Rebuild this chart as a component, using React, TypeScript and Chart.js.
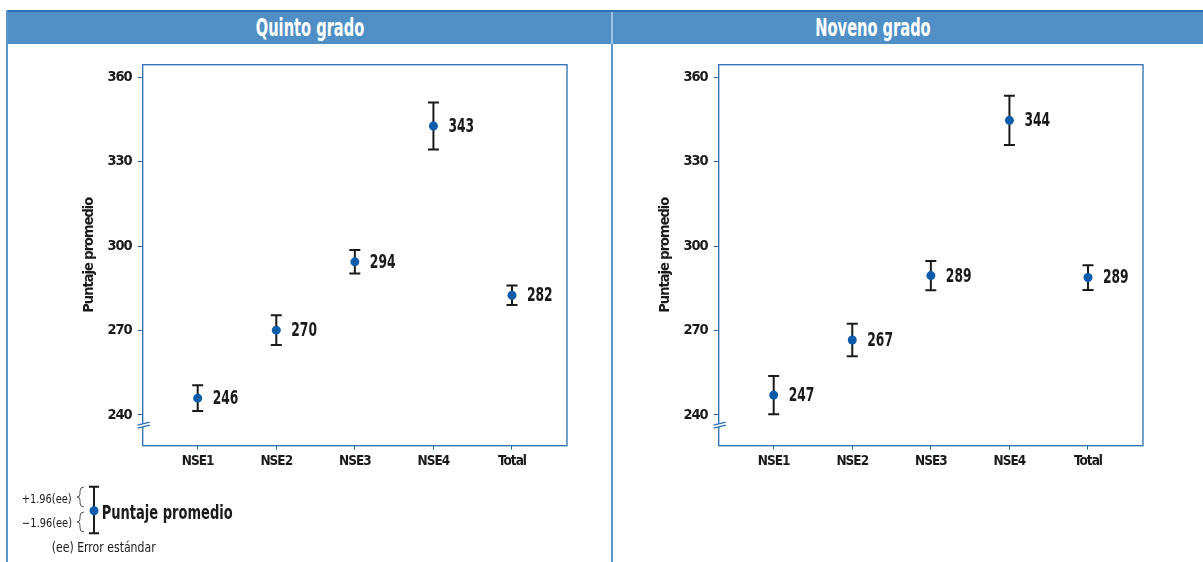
import React, { useEffect, useRef } from "react";
import { Chart, registerables } from "chart.js";
Chart.register(...registerables);

const categories = ["NSE1", "NSE2", "NSE3", "NSE4", "Total"];
const yTicks = [240, 270, 300, 330, 360];
const quintoMeans = [245.9, 270.1, 294.4, 342.7, 282.5];
const quintoErr = [4.6, 5.3, 4.2, 8.4, 3.5];
const quintoLabels = [246, 270, 294, 343, 282];
const novenoMeans = [247.0, 266.6, 289.5, 344.7, 288.8];
const novenoErr = [6.8, 5.8, 5.2, 8.8, 4.4];
const novenoLabels = [247, 267, 289, 344, 289];
const yTitle = "Puntaje promedio";
const panelTitles = ["Quinto grado", "Noveno grado"];
const legendTexts = ["+1.96(ee)", "\u22121.96(ee)", "Puntaje promedio", "(ee) Error est\u00e1ndar"];

const NARROW = "'Liberation Sans Narrow', 'Arial Narrow', 'DejaVu Sans Condensed', sans-serif";
const BLUE = "#2a6cb0";
const DOT = "#0b5cab";
const INK = "#1a1a1a";

function Panel(props: { means: number[]; errs: number[]; labels: number[]; left: number }) {
  const ref = useRef<HTMLCanvasElement>(null);
  useEffect(() => {
    const { means, errs, labels } = props;
    const plugin = {
      id: "decor",
      beforeDraw(chart: any) {
        try {
          (chart.ctx as any).letterSpacing = "-1px";
        } catch (e) {}
      },
      beforeDatasetsDraw(chart: any) {
        const { ctx, chartArea, scales } = chart;
        ctx.save();
        ctx.strokeStyle = BLUE;
        ctx.lineWidth = 1.3;
        ctx.strokeRect(chartArea.left, chartArea.top, chartArea.right - chartArea.left, chartArea.bottom - chartArea.top);
        ctx.strokeStyle = INK;
        ctx.lineWidth = 2;
        means.forEach((m, i) => {
          const x = scales.x.getPixelForValue(i);
          const yt = scales.y.getPixelForValue(m + errs[i]);
          const yb = scales.y.getPixelForValue(m - errs[i]);
          ctx.beginPath();
          ctx.moveTo(x, yt);
          ctx.lineTo(x, yb);
          ctx.moveTo(x - 5.5, yt);
          ctx.lineTo(x + 5.5, yt);
          ctx.moveTo(x - 5.5, yb);
          ctx.lineTo(x + 5.5, yb);
          ctx.stroke();
        });
        ctx.restore();
      },
      afterDatasetsDraw(chart: any) {
        const { ctx, scales, chartArea } = chart;
        ctx.save();
        try {
          (ctx as any).letterSpacing = "0px";
        } catch (e) {}
        ctx.fillStyle = INK;
        ctx.font = "bold 19px " + NARROW;
        ctx.textAlign = "left";
        ctx.textBaseline = "middle";
        means.forEach((m, i) => {
          const x = scales.x.getPixelForValue(i);
          const y = scales.y.getPixelForValue(m);
          ctx.save();
          ctx.translate(x + 15, y + 1);
          ctx.scale(0.72, 1);
          ctx.fillText(String(labels[i]), 0, 0);
          ctx.restore();
        });
        // axis break marks
        const bx = chartArea.left;
        const by = scales.y.getPixelForValue(236.3);
        ctx.fillStyle = "#ffffff";
        ctx.beginPath();
        ctx.moveTo(bx - 5, by);
        ctx.lineTo(bx + 7, by - 3);
        ctx.lineTo(bx + 7, by);
        ctx.lineTo(bx - 5, by + 3);
        ctx.closePath();
        ctx.fill();
        ctx.strokeStyle = BLUE;
        ctx.lineWidth = 1.2;
        [-1.5, 1.5].forEach((d) => {
          ctx.beginPath();
          ctx.moveTo(bx - 5, by + d + 1.5);
          ctx.lineTo(bx + 7, by + d - 1.5);
          ctx.stroke();
        });
        ctx.restore();
      },
    };
    const chart = new Chart(ref.current as HTMLCanvasElement, {
      type: "scatter",
      data: {
        datasets: [
          {
            data: means.map((m, i) => ({ x: i, y: m })),
            pointRadius: 4.5,
            pointBackgroundColor: DOT,
            pointBorderWidth: 0,
            showLine: false,
          },
        ],
      },
      options: {
        animation: false,
        responsive: false,
        events: [],
        layout: { padding: { top: 14.5, right: 41, left: 0, bottom: 0 } },
        plugins: { legend: { display: false }, tooltip: { enabled: false } },
        scales: {
          x: {
            type: "linear",
            min: -0.7,
            max: 4.7,
            afterBuildTicks: (s: any) => {
              s.ticks = categories.map((_, i) => ({ value: i }));
            },
            afterFit: (s: any) => {
              s.height = 54.3;
            },
            ticks: {
              callback: (v: any) => categories[Math.round(Number(v))] ?? "",
              font: { family: NARROW, size: 13.5, weight: "bold" },
              color: INK,
              padding: 4,
              maxRotation: 0,
              autoSkip: false,
            },
            grid: { drawOnChartArea: false, drawTicks: true, tickLength: 4, color: BLUE, lineWidth: 1 },
            border: { display: false },
          },
          y: {
            type: "linear",
            min: 229,
            max: 364.5,
            afterBuildTicks: (s: any) => {
              s.ticks = yTicks.map((v) => ({ value: v }));
            },
            afterFit: (s: any) => {
              s.width = 134.7;
            },
            ticks: {
              font: { family: NARROW, size: 14.5, weight: "bold" },
              color: INK,
              padding: 6,
            },
            grid: { drawOnChartArea: false, drawTicks: true, tickLength: 5, color: BLUE, lineWidth: 1 },
            border: { display: false },
            title: {
              display: true,
              text: yTitle,
              font: { family: NARROW, size: 14.5, weight: "bold" },
              color: INK,
              padding: { top: 73, bottom: 0 },
            },
          },
        },
      },
      plugins: [plugin],
    } as any);
    return () => chart.destroy();
  }, []);
  return (
    <canvas
      ref={ref}
      width={600}
      height={450}
      style={{ position: "absolute", left: props.left, top: 50, width: 600, height: 450 }}
    />
  );
}

function Legend() {
  const t = 470;
  return (
    <svg width={300} height={92} style={{ position: "absolute", left: 0, top: t }}>
      <text x={21.7} y={498.3 - t} dominantBaseline="central" fontFamily={NARROW} fontSize={12.5} fill={INK} textLength={50} lengthAdjust="spacingAndGlyphs">
        {legendTexts[0]}
      </text>
      <text x={22} y={522.3 - t} dominantBaseline="central" fontFamily={NARROW} fontSize={12.5} fill={INK} textLength={50} lengthAdjust="spacingAndGlyphs">
        {legendTexts[1]}
      </text>
      <path
        d={`M84,${487 - t} Q80,${487 - t} 80,${491 - t} L80,${494 - t} Q80,${497 - t} 77,${497 - t} Q80,${497 - t} 80,${500 - t} L80,${503 - t} Q80,${507 - t} 84,${507 - t}`}
        fill="none"
        stroke="#444"
        strokeWidth={0.9}
      />
      <path
        d={`M84,${512 - t} Q80,${512 - t} 80,${516 - t} L80,${519 - t} Q80,${522 - t} 77,${522 - t} Q80,${522 - t} 80,${525 - t} L80,${528 - t} Q80,${532 - t} 84,${532 - t}`}
        fill="none"
        stroke="#444"
        strokeWidth={0.9}
      />
      <path
        d={`M94,${486.7 - t} L94,${533.3 - t} M89,${486.7 - t} L99,${486.7 - t} M89,${533.3 - t} L99,${533.3 - t}`}
        stroke={INK}
        strokeWidth={2}
      />
      <circle cx={94} cy={510.7 - t} r={4.5} fill={DOT} />
      <text x={101.7} y={512 - t} dominantBaseline="central" fontFamily={NARROW} fontSize={19} fontWeight="bold" fill={INK} textLength={131} lengthAdjust="spacingAndGlyphs">
        {legendTexts[2]}
      </text>
      <text x={51.7} y={547.3 - t} dominantBaseline="central" fontFamily={NARROW} fontSize={13.5} fill={INK} textLength={104} lengthAdjust="spacingAndGlyphs">
        {legendTexts[3]}
      </text>
    </svg>
  );
}

export default function App() {
  const headerText = (txt: string, cx: number) => (
    <div
      style={{
        position: "absolute",
        left: cx - 150,
        width: 300,
        top: 11,
        height: 33,
        lineHeight: "33px",
        textAlign: "center",
        color: "#ffffff",
        fontFamily: NARROW,
        fontWeight: "bold",
        fontSize: 25,
        transform: "scaleX(0.65)",
        transformOrigin: "center",
      }}
    >
      {txt}
    </div>
  );
  return (
    <div
      style={{
        position: "absolute",
        left: 0,
        top: 0,
        width: 1203,
        height: 562,
        background: "#ffffff",
        overflow: "hidden",
      }}
    >
      <div style={{ position: "absolute", left: 6, top: 10, width: 1197, height: 2, background: "#2a6db3" }} />
      <div style={{ position: "absolute", left: 6, top: 12, width: 1197, height: 32, background: "#4f8fc5" }} />
      <div style={{ position: "absolute", left: 6, top: 10, width: 2, height: 552, background: "#5b97cf" }} />
      <div style={{ position: "absolute", left: 611, top: 12, width: 1.5, height: 32, background: "#9cc3e6" }} />
      <div style={{ position: "absolute", left: 611, top: 44, width: 1.5, height: 518, background: "#5b97cf" }} />
      {headerText(panelTitles[0], 310)}
      {headerText(panelTitles[1], 872.5)}
      <Panel means={quintoMeans} errs={quintoErr} labels={quintoLabels} left={8} />
      <Panel means={novenoMeans} errs={novenoErr} labels={novenoLabels} left={583.6} />
      <Legend />
    </div>
  );
}
